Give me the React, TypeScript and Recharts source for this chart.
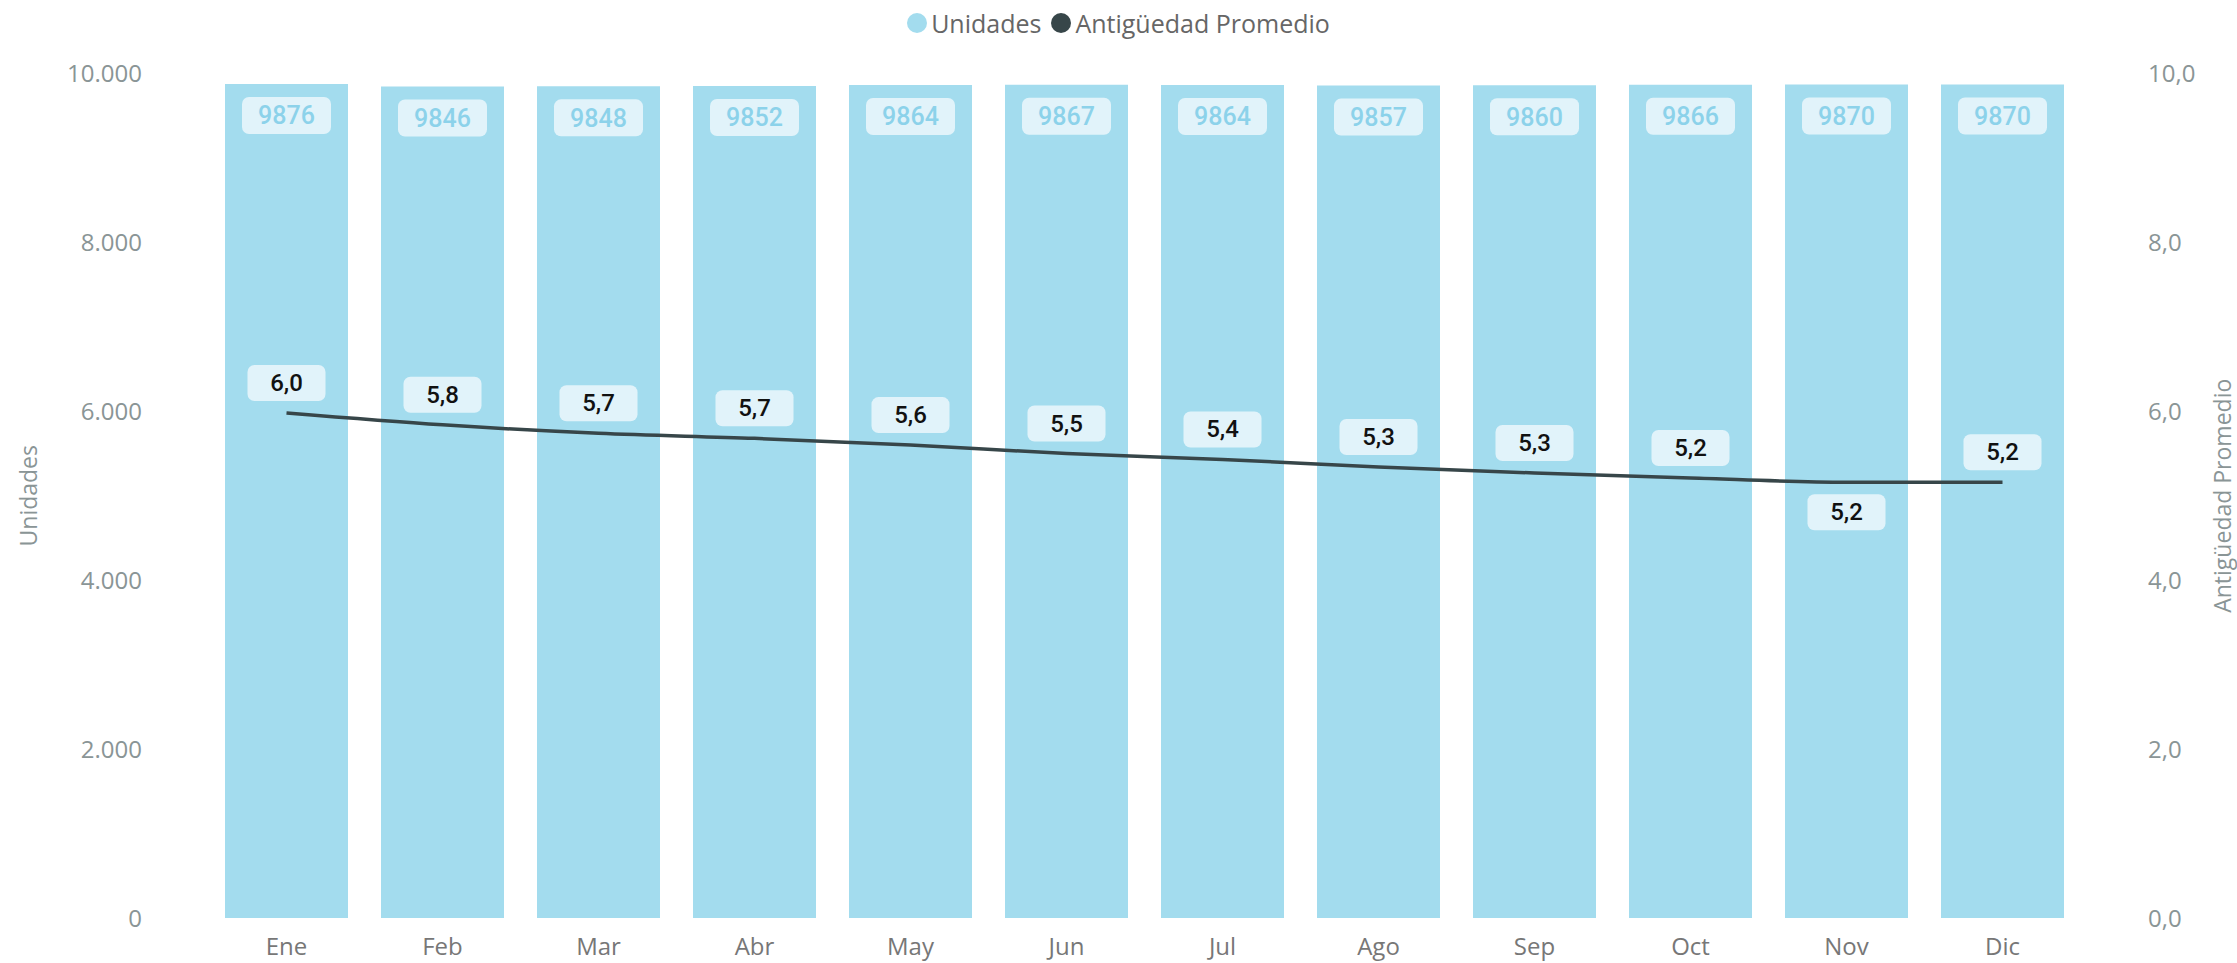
import { ComposedChart, Bar, Line, XAxis, YAxis, LabelList } from 'recharts'

const months = ['Ene', 'Feb', 'Mar', 'Abr', 'May', 'Jun', 'Jul', 'Ago', 'Sep', 'Oct', 'Nov', 'Dic']
const unidades = [9876, 9846, 9848, 9852, 9864, 9867, 9864, 9857, 9860, 9866, 9870, 9870]
const antiguedad = [5.98, 5.84, 5.74, 5.68, 5.6, 5.5, 5.43, 5.34, 5.27, 5.21, 5.16, 5.16]
const leftTicks = [0, 2000, 4000, 6000, 8000, 10000]
const rightTicks = [0, 2, 4, 6, 8, 10]
// labels drawn under the line instead of above (overlap avoidance)
const labelBelow = ['Nov']

const data = months.map((m, i) => ({ mes: m, unidades: unidades[i], antiguedad: antiguedad[i] }))

const BAR = '#a3dcee'
const LINE = '#374649'
const BOX = '#e1f3fa'
const AXIS = '#8a9596'
const FONT = '"Open Sans", "Noto Sans", sans-serif'

const fmtThousands = (v: number) => v.toString().replace(/\B(?=(\d{3})+(?!\d))/g, '.')
const fmtDec = (v: number) => v.toFixed(1).replace('.', ',')

const BarValue = (props: any) => {
  const { x, y, width, value } = props
  const cx = x + width / 2
  return (
    <g>
      <rect x={cx - 44.5} y={y + 13} width={89} height={37} rx={7} fill={BOX} />
      <text
        x={cx}
        y={y + 32}
        textAnchor="middle"
        dominantBaseline="central"
        fill="#8cd2ea"
        fontSize={25}
        fontWeight={500}
        fontFamily="Roboto, sans-serif"
      >
        {value}
      </text>
    </g>
  )
}

const LineValue = (props: any) => {
  const { x, y, value, index } = props
  const below = labelBelow.includes(months[index])
  const top = below ? y + 12 : y - 48
  return (
    <g>
      <rect x={x - 39} y={top} width={78} height={36} rx={7} fill={BOX} />
      <text
        x={x}
        y={top + 18}
        textAnchor="middle"
        dominantBaseline="central"
        fill="#111"
        fontSize={24}
        fontWeight={500}
        fontFamily="Roboto, sans-serif"
      >
        {fmtDec(value)}
      </text>
    </g>
  )
}

const AxisTitle = ({ viewBox, text, dx }: any) => {
  const cx = viewBox.x + dx
  const cy = viewBox.y + viewBox.height / 2
  return (
    <text
      x={cx}
      y={cy}
      transform={`rotate(-90, ${cx}, ${cy})`}
      textAnchor="middle"
      dominantBaseline="central"
      fill={AXIS}
      fontSize={23}
      fontFamily={FONT}
    >
      {text}
    </text>
  )
}

export default function App() {
  return (
    <div style={{ position: 'absolute', left: 0, top: 0, width: 2237, height: 963, background: '#fff' }}>
      <div
        style={{
          position: 'absolute',
          top: 6,
          left: 0,
          width: 2237,
          display: 'flex',
          justifyContent: 'center',
          alignItems: 'center',
          fontFamily: FONT,
          fontSize: 25,
          color: '#666',
        }}
      >
        <span style={{ width: 20, height: 20, borderRadius: 10, background: BAR, marginRight: 4 }} />
        <span>Unidades</span>
        <span style={{ width: 20, height: 20, borderRadius: 10, background: LINE, marginLeft: 10, marginRight: 4 }} />
        <span>Antigüedad Promedio</span>
      </div>
      <ComposedChart
        width={2237}
        height={963}
        data={data}
        margin={{ top: 73.5, right: 0, bottom: 0, left: 0 }}
        barCategoryGap={16.5}
      >
        <XAxis
          dataKey="mes"
          height={45}
          tickLine={false}
          axisLine={false}
          tickSize={0}
          tickMargin={20}
          tick={{ fill: '#777', fontSize: 24, fontFamily: FONT }}
        />
        <YAxis
          yAxisId="left"
          orientation="left"
          width={208.5}
          domain={[0, 10000]}
          ticks={leftTicks}
          tickFormatter={fmtThousands}
          tickLine={false}
          axisLine={false}
          tickSize={0}
          tickMargin={66.5}
          tick={{ fill: AXIS, fontSize: 24, fontFamily: FONT }}
          label={{ content: (p: any) => <AxisTitle {...p} text="Unidades" dx={28} /> }}
        />
        <YAxis
          yAxisId="right"
          orientation="right"
          width={156.5}
          domain={[0, 10]}
          ticks={rightTicks}
          tickFormatter={fmtDec}
          tickLine={false}
          axisLine={false}
          tickSize={0}
          tickMargin={67.5}
          tick={{ fill: AXIS, fontSize: 24, fontFamily: FONT }}
          label={{ content: (p: any) => <AxisTitle {...p} text="Antigüedad Promedio" dx={141.5} /> }}
        />
        <Bar yAxisId="left" dataKey="unidades" fill={BAR} isAnimationActive={false}>
          <LabelList dataKey="unidades" content={BarValue} />
        </Bar>
        <Line
          yAxisId="right"
          type="monotone"
          dataKey="antiguedad"
          stroke={LINE}
          strokeWidth={3.5}
          dot={false}
          activeDot={false}
          isAnimationActive={false}
        >
          <LabelList dataKey="antiguedad" content={LineValue} />
        </Line>
      </ComposedChart>
    </div>
  )
}
